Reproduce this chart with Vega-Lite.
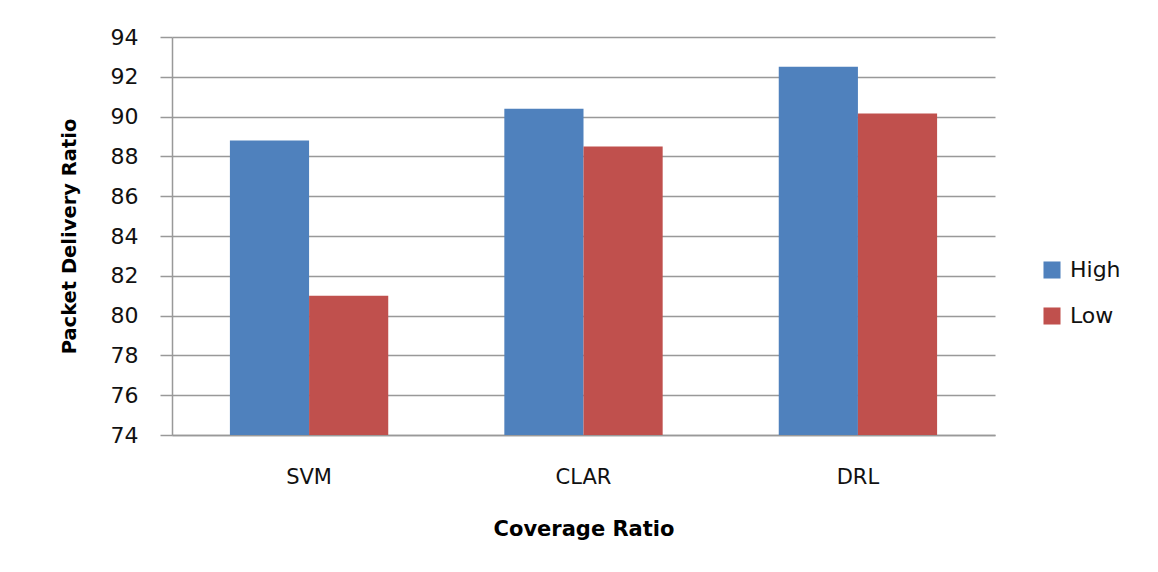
{
  "$schema": "https://vega.github.io/schema/vega-lite/v6.json",
  "width": 823,
  "height": 398,
  "autosize": {"type": "none"},
  "padding": {"left": 172, "top": 37, "right": 163, "bottom": 137},
  "background": "white",
  "data": {
    "values": [
      {"method": "SVM", "coverage": "High", "pdr": 88.8},
      {"method": "SVM", "coverage": "Low", "pdr": 81.0},
      {"method": "CLAR", "coverage": "High", "pdr": 90.4},
      {"method": "CLAR", "coverage": "Low", "pdr": 88.5},
      {"method": "DRL", "coverage": "High", "pdr": 92.5},
      {"method": "DRL", "coverage": "Low", "pdr": 90.15}
    ]
  },
  "mark": {"type": "bar"},
  "encoding": {
    "x": {
      "field": "method",
      "type": "nominal",
      "sort": ["SVM", "CLAR", "DRL"],
      "scale": {"paddingInner": 0.423, "paddingOuter": 0.211},
      "axis": {
        "title": "Coverage Ratio",
        "labelAngle": 0,
        "ticks": false,
        "domainColor": "#999999",
        "domainWidth": 1.5,
        "labelFont": "DejaVu Sans",
        "labelFontSize": 21,
        "labelColor": "#111111",
        "labelPadding": 31,
        "titleFont": "DejaVu Sans",
        "titleFontSize": 21,
        "titleFontWeight": "bold",
        "titleColor": "#000000",
        "titlePadding": 31
      }
    },
    "xOffset": {"field": "coverage", "sort": ["High", "Low"]},
    "y": {
      "field": "pdr",
      "type": "quantitative",
      "scale": {"domain": [74, 94], "zero": false, "nice": false},
      "axis": {
        "title": "Packet Delivery Ratio",
        "values": [74, 76, 78, 80, 82, 84, 86, 88, 90, 92, 94],
        "grid": true,
        "gridColor": "#999999",
        "gridWidth": 1.5,
        "domainColor": "#999999",
        "domainWidth": 1.5,
        "tickColor": "#999999",
        "tickWidth": 1.5,
        "tickSize": 12,
        "labelFont": "DejaVu Sans",
        "labelFontSize": 22,
        "labelColor": "#111111",
        "labelPadding": 22,
        "titleFont": "DejaVu Sans",
        "titleFontSize": 19.5,
        "titleFontWeight": "bold",
        "titleColor": "#000000",
        "titlePadding": 31
      }
    },
    "y2": {"datum": 74},
    "color": {
      "field": "coverage",
      "type": "nominal",
      "sort": ["High", "Low"],
      "scale": {"domain": ["High", "Low"], "range": ["#4F81BD", "#C0504D"]},
      "legend": {
        "title": null,
        "orient": "none",
        "legendX": 869,
        "legendY": 222,
        "symbolType": "square",
        "symbolSize": 290,
        "symbolStrokeWidth": 0,
        "labelFont": "DejaVu Sans",
        "labelFontSize": 22,
        "labelColor": "#111111",
        "rowPadding": 24,
        "labelOffset": 7
      }
    }
  },
  "config": {"view": {"stroke": null}}
}
